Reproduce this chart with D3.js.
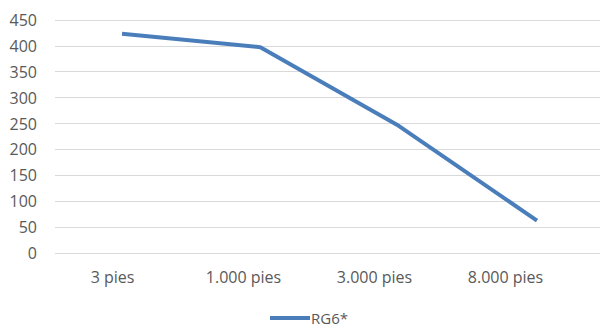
<!DOCTYPE html>
<html><head><meta charset="utf-8">
<script src="https://cdn.jsdelivr.net/npm/d3@7"></script>
<style>body{margin:0;background:#fff}svg{display:block}text{font-family:"Open Sans",sans-serif}</style>
</head><body>
<svg id="c" width="600" height="326"></svg>
<script>
const categories = ["3 pies", "1.000 pies", "3.000 pies", "8.000 pies"];
const values = [423, 397, 245, 62];
const seriesName = "RG6*";
const yTicks = [0, 50, 100, 150, 200, 250, 300, 350, 400, 450];

const svg = d3.select("#c");
const y = d3.scaleLinear().domain([0, 450]).range([252.7, 19.7]);
const xMark = d3.scalePoint().domain(categories).range([122, 537]);
const xLabel = d3.scalePoint().domain(categories).range([112, 505]);
const color = "#4a7ebb";
const textColor = "#595959";

// gridlines
svg.append("g").selectAll("line").data(yTicks).join("line")
  .attr("x1", 55).attr("x2", 600)
  .attr("y1", d => Math.round(y(d)) + 0.5).attr("y2", d => Math.round(y(d)) + 0.5)
  .attr("stroke", "#d9d9d9").attr("stroke-width", 1);

// y axis
const yAxis = svg.append("g").attr("transform", "translate(37,0)")
  .call(d3.axisLeft(y).tickValues(yTicks).tickSize(0).tickPadding(0));
yAxis.select(".domain").remove();
yAxis.selectAll("text").attr("fill", textColor).style("font-size", "16px").attr("dy", "0.36em");

// x axis
const xAxis = svg.append("g").attr("transform", "translate(0,283)")
  .call(d3.axisBottom(xLabel).tickSize(0).tickPadding(0));
xAxis.select(".domain").remove();
xAxis.selectAll("text").attr("fill", textColor).style("font-size", "16px").attr("dy", "0");

// line
const line = d3.line().x((d, i) => xMark(categories[i])).y(d => y(d));
svg.append("path").datum(values).attr("d", line)
  .attr("fill", "none").attr("stroke", color).attr("stroke-width", 4)
  .attr("stroke-linejoin", "round");

// legend
const lg = svg.append("g");
lg.append("line").attr("x1", 270).attr("x2", 310).attr("y1", 318).attr("y2", 318)
  .attr("stroke", color).attr("stroke-width", 4);
lg.append("text").attr("x", 311).attr("y", 323.5).attr("fill", textColor)
  .style("font-size", "15px").text(seriesName);
</script>
</body></html>
